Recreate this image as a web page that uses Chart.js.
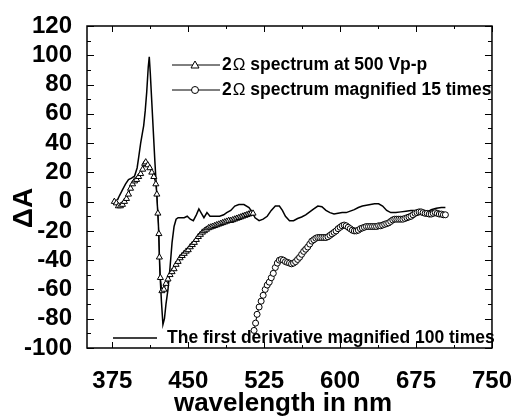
<!DOCTYPE html>
<html>
<head>
<meta charset="utf-8">
<script src="https://cdn.jsdelivr.net/npm/chart.js@4.4.0/dist/chart.umd.min.js"></script>
<style>
  html, body { margin: 0; padding: 0; background: #fff; }
</style>
</head>
<body>
<canvas id="chart" width="523" height="419"></canvas>
<script>
// 2Ω spectrum at 500 Vp-p (triangles)
const triWl = [377, 379, 381, 383, 385, 387, 389, 391, 393, 395,
    397, 399, 401, 403, 405, 407, 408, 410, 412, 414,
    416, 418, 419, 420, 421, 421.5, 422.5, 424, 426, 428,
    430, 432, 434, 436, 438, 440, 442, 444, 446, 448,
    450, 452, 454, 456, 458, 460, 462, 464, 466, 468,
    470, 472, 474, 476, 478, 480, 482, 484, 486, 488,
    490, 492, 494, 496, 498, 500, 502, 504, 506, 508,
    510, 512, 514];
const triVal = [0, -1, -3, -3, -2, 0, 2, 5, 9, 12,
    14, 15, 17, 19, 22, 26, 27, 25, 23, 20,
    17, 12, 5, -8, -22, -38, -52, -61, -60, -56,
    -53, -50, -48, -46, -43, -41, -38.5, -37, -35.5, -34,
    -33, -31, -29.5, -28, -26, -24, -22.5, -21, -20, -19,
    -18, -17.5, -17, -16.5, -16, -15.5, -15, -14.5, -14, -13.5,
    -13, -13, -12.5, -12, -11.5, -11, -10.5, -10, -9.5, -9,
    -8.5, -8, -8];

// 2Ω spectrum magnified 15 times (circles)
const cirWl = [515, 516.5, 518,
    520, 522, 524, 526, 528, 530, 532, 534, 536, 538,
    540, 542, 544, 546, 548, 550, 552, 554, 556, 558,
    560, 562, 564, 566, 568, 570, 572, 574, 576, 578,
    580, 582, 584, 586, 588, 590, 592, 594, 596, 598,
    600, 602, 604, 606, 608, 610, 612, 614, 616, 618,
    620, 622, 624, 626, 628, 630, 632, 634, 636, 638,
    640, 642, 644, 646, 648, 650, 652, 654, 656, 658,
    660, 662, 664, 666, 668, 670, 672, 674, 676, 678,
    680, 682, 684, 686, 688, 690, 692, 694, 696, 698,
    700, 702, 704];
const cirVal = [-88, -83, -77,
    -72, -68, -64, -60, -57, -55, -52, -49, -45, -42,
    -40, -39.5, -40, -41, -41.5, -42, -42.5, -42, -41, -39.5,
    -38, -36, -34, -32.5, -31, -29, -27, -26, -25, -24.5,
    -24.5, -24.5, -24.5, -24.5, -24, -23, -22, -21, -20, -18.5,
    -17.5, -16.5, -16, -16.5, -17.5, -18.5, -19.5, -20, -20, -19.5,
    -18.5, -18, -17.5, -17, -17, -17, -17, -17, -17, -16.5,
    -16.5, -16, -15.5, -15, -14.5, -13.5, -12.5, -12, -12, -12,
    -12, -12, -11.5, -11, -10.5, -10, -9, -8, -7.5, -7,
    -7, -7.5, -8, -8, -8.5, -8.5, -8, -7.5, -8, -8.5,
    -8.5, -9, -9];

// first derivative magnified 100 times (plain line)
const derWl = [380, 382, 385, 388, 391, 394, 397, 399.5, 401, 403,
    405, 406, 407.5, 409, 410.5, 411.5, 412.5, 414, 415.5, 417,
    418.5, 420.5, 422, 423.5, 425, 426.5, 428, 430, 432, 434,
    436, 438, 440, 443, 446, 449, 452, 455, 458, 460.5,
    463, 465.5, 468.5, 471.5, 476, 481, 485, 488, 492, 496,
    500, 505, 510, 513, 516, 520, 524, 528, 532, 536,
    540, 543, 546, 550, 554, 558, 562, 566, 570, 574,
    578, 582, 586, 590, 594, 598, 602, 606, 610, 614,
    618, 622, 626, 630, 634, 638, 642, 646, 650, 655,
    660, 665, 670, 675, 680, 685, 690, 695, 700, 704];
const derVal = [1, 4, 8, 12, 15, 16, 17.5, 23, 30, 40,
    48, 52, 62, 75, 92, 99, 88, 68, 48, 28,
    10, -15, -48, -68, -84, -80, -70, -60, -45, -28,
    -17, -12, -11, -11, -11, -10, -12, -13, -9, -5,
    -8, -11, -7.5, -10, -10, -10, -9, -7.5, -6, -3,
    -2, -2, -4, -7, -11, -13, -12, -10, -6, -3,
    -3, -6, -10, -13, -13, -11.5, -10.5, -9, -7, -5,
    -3, -3.5, -6, -7.5, -8.5, -8, -7.5, -7.5, -6.5, -5.5,
    -4, -3, -2.5, -2, -1.5, -1.5, -3, -6, -7.5, -7.5,
    -7, -6.5, -6, -6, -6.5, -7.5, -5.5, -4.5, -4, -4];

const xTicks = [375, 450, 525, 600, 675, 750];
const xMinorStep = 37.5;
const yMin = -100, yMax = 120, yStep = 20, yMinorStep = 10;

const FONT = "'Liberation Sans', Arial, Helvetica, sans-serif";

function toPoints(xs, ys) {
    return xs.map((x, i) => ({ x: x, y: ys[i] }));
}

// box round the plot, with inward ticks on all four sides
const frameTicks = {
    id: 'frameTicks',
    afterDraw(chart) {
        const ctx = chart.ctx;
        const a = chart.chartArea;
        const sx = chart.scales.x, sy = chart.scales.y;
        ctx.save();
        ctx.strokeStyle = '#000';
        ctx.lineWidth = 1;
        ctx.beginPath();
        for (let v = xTicks[0]; v <= sx.max; v += xMinorStep) {
            const px = Math.round(sx.getPixelForValue(v)) + 0.5;
            const len = xTicks.includes(v) ? 6 : 3;
            ctx.moveTo(px, a.bottom); ctx.lineTo(px, a.bottom - len);
            ctx.moveTo(px, a.top); ctx.lineTo(px, a.top + len);
        }
        for (let v = yMin; v <= yMax; v += yMinorStep) {
            const py = Math.round(sy.getPixelForValue(v)) + 0.5;
            const len = (v % yStep === 0) ? 7 : 4;
            ctx.moveTo(a.left, py); ctx.lineTo(a.left + len, py);
            ctx.moveTo(a.right, py); ctx.lineTo(a.right - len, py);
        }
        ctx.stroke();
        ctx.lineWidth = 1.5;
        ctx.strokeRect(a.left, a.top, a.right - a.left, a.bottom - a.top);
        ctx.restore();
    }
};

// axis titles and the in-plot legend
const textLayer = {
    id: 'textLayer',
    afterDraw(chart) {
        const ctx = chart.ctx;
        ctx.save();
        ctx.fillStyle = '#000';
        ctx.strokeStyle = '#000';

        ctx.font = 'bold 26px ' + FONT;
        ctx.textAlign = 'center';
        ctx.textBaseline = 'alphabetic';
        ctx.fillText('wavelength in nm', 283, 411);

        ctx.save();
        ctx.translate(32, 208);
        ctx.rotate(-Math.PI / 2);
        ctx.font = 'bold 28px ' + FONT;
        ctx.fillText('ΔA', 0, 0);
        ctx.restore();

        ctx.textAlign = 'left';
        ctx.textBaseline = 'middle';
        const rows = [
            { y: 65, text: ' spectrum at 500 Vp-p', marker: 'triangle' },
            { y: 90, text: ' spectrum magnified 15 times', marker: 'circle' }
        ];
        rows.forEach(r => {
            ctx.lineWidth = 1;
            ctx.beginPath();
            ctx.moveTo(172, r.y); ctx.lineTo(220, r.y);
            ctx.stroke();
            ctx.fillStyle = '#fff';
            ctx.beginPath();
            if (r.marker === 'triangle') {
                ctx.moveTo(195, r.y - 4); ctx.lineTo(199, r.y + 3); ctx.lineTo(191, r.y + 3); ctx.closePath();
            } else {
                ctx.arc(195, r.y, 3.5, 0, Math.PI * 2);
            }
            ctx.fill(); ctx.stroke();
            ctx.fillStyle = '#000';
            let x = 222;
            ctx.font = 'bold 17.5px ' + FONT;
            ctx.fillText('2', x, r.y);
            x += ctx.measureText('2').width + 1;
            ctx.font = '17px ' + FONT;
            ctx.fillText('Ω', x, r.y);
            x += ctx.measureText('Ω').width;
            ctx.font = 'bold 17.5px ' + FONT;
            ctx.fillText(r.text, x, r.y);
        });

        ctx.lineWidth = 1.5;
        ctx.beginPath();
        ctx.moveTo(113, 338); ctx.lineTo(157, 338);
        ctx.stroke();
        ctx.font = 'bold 17.5px ' + FONT;
        ctx.fillText('The first derivative magnified 100 times', 167, 338);
        ctx.restore();
    }
};

const ctx = document.getElementById('chart').getContext('2d');

new Chart(ctx, {
    type: 'scatter',
    data: {
        datasets: [
            {
                label: '2Ω spectrum at 500 Vp-p',
                data: toPoints(triWl, triVal),
                showLine: true,
                borderColor: '#000',
                borderWidth: 1,
                pointStyle: 'triangle',
                pointRadius: 3.5,
                pointBackgroundColor: '#fff',
                pointBorderColor: '#000',
                pointBorderWidth: 1
            },
            {
                label: '2Ω spectrum magnified 15 times',
                data: toPoints(cirWl, cirVal),
                showLine: true,
                borderColor: '#000',
                borderWidth: 1,
                pointStyle: 'circle',
                pointRadius: 3,
                pointBackgroundColor: '#fff',
                pointBorderColor: '#000',
                pointBorderWidth: 1
            },
            {
                label: 'The first derivative magnified 100 times',
                data: toPoints(derWl, derVal),
                showLine: true,
                borderColor: '#000',
                borderWidth: 1.5,
                pointRadius: 0
            }
        ]
    },
    options: {
        responsive: false,
        animation: false,
        devicePixelRatio: 1,
        layout: { padding: { top: 26, right: 20, left: 0, bottom: 0 } },
        plugins: {
            legend: { display: false },
            tooltip: { enabled: false }
        },
        scales: {
            x: {
                type: 'linear',
                min: 350,
                max: 750,
                grid: { display: false },
                border: { display: false },
                ticks: {
                    color: '#000',
                    padding: 11,
                    maxRotation: 0,
                    autoSkip: false,
                    font: { family: FONT, size: 24, weight: 'bold' }
                },
                afterBuildTicks: s => { s.ticks = xTicks.map(v => ({ value: v })); },
                afterFit: s => { s.height = 71; }
            },
            y: {
                min: yMin,
                max: yMax,
                grid: { display: false },
                border: { display: false },
                ticks: {
                    stepSize: yStep,
                    color: '#000',
                    padding: 7,
                    autoSkip: false,
                    font: { family: FONT, size: 24, weight: 'bold' }
                },
                afterFit: s => { s.width = 87; }
            }
        }
    },
    plugins: [frameTicks, textLayer]
});
</script>
</body>
</html>
